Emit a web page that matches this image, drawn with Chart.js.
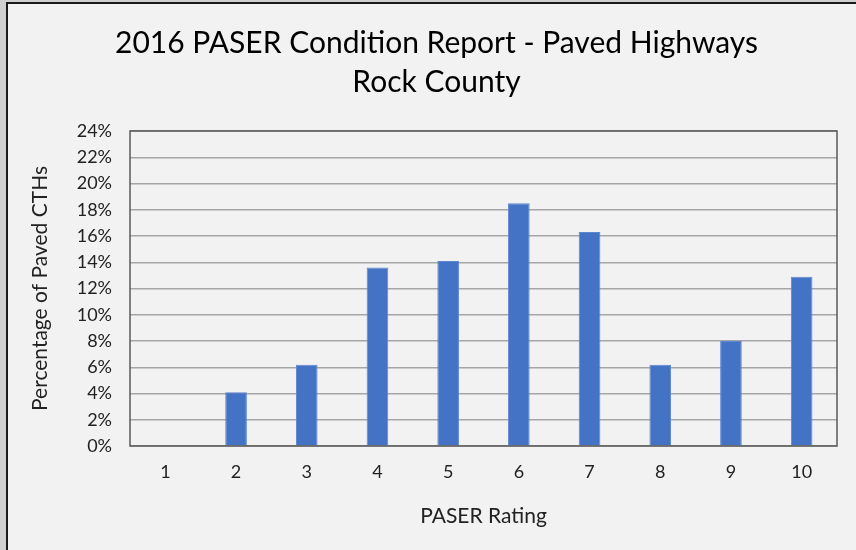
<!DOCTYPE html>
<html>
<head>
<meta charset="utf-8">
<script src="https://cdn.jsdelivr.net/npm/chart.js@4"></script>
<style>
  html, body { margin: 0; padding: 0; background: #f2f2f2; }
  #wrap { width: 856px; height: 550px; }
</style>
</head>
<body>
<div id="wrap"><canvas id="paserChart" width="856" height="550"></canvas></div>
<script>
// data
const ratings = ['1', '2', '3', '4', '5', '6', '7', '8', '9', '10'];
const percentCTH = [0, 4.1, 6.2, 13.6, 14.1, 18.5, 16.3, 6.2, 8.0, 12.9];
const yTicks = [0, 2, 4, 6, 8, 10, 12, 14, 16, 18, 20, 22, 24];

const FONT = 'Lato, "Open Sans", sans-serif';

// background, outer frame and plot box
const framePlugin = {
  id: 'frame',
  afterLayout(chart) {
    // title in the reference sits a little right of the canvas centre
    chart.titleBlock.left += 13;
    chart.titleBlock.right += 13;
  },
  beforeDraw(chart) {
    const c = chart.ctx;
    c.save();
    c.fillStyle = '#f2f2f2';
    c.fillRect(0, 0, chart.width, chart.height);
    c.fillStyle = '#d0d0d0';
    c.fillRect(0, 0, 6, chart.height);
    c.fillRect(0, 0, chart.width, 2);
    c.fillStyle = '#1a1a1a';
    c.fillRect(6, 2, 2, chart.height - 2);
    c.fillRect(6, 2, chart.width - 6, 2);
    c.restore();
  },
  afterDatasetsDraw(chart) {
    const a = chart.chartArea;
    const c = chart.ctx;
    c.save();
    c.strokeStyle = '#595959';
    c.lineWidth = 1.5;
    c.strokeRect(a.left, a.top, a.right - a.left, a.bottom - a.top);
    c.restore();
  }
};

new Chart(document.getElementById('paserChart'), {
  type: 'bar',
  data: {
    labels: ratings,
    datasets: [{
      label: 'Percentage of Paved CTHs',
      data: percentCTH,
      backgroundColor: '#4472c4',
      borderColor: '#5b86d0',
      borderWidth: 1,
      categoryPercentage: 1.0,
      barPercentage: 0.306
    }]
  },
  options: {
    responsive: false,
    animation: false,
    layout: { padding: { left: 10, right: 19, top: 14, bottom: 14 } },
    plugins: {
      legend: { display: false },
      tooltip: { enabled: false },
      title: {
        display: true,
        text: ['2016 PASER Condition Report - Paved Highways', 'Rock County'],
        color: '#000',
        font: { family: FONT, size: 30, weight: 'normal', lineHeight: '39px' },
        padding: { top: 10, bottom: 29 }
      }
    },
    scales: {
      x: {
        grid: { display: false, drawTicks: false },
        border: { display: false },
        ticks: { color: '#222', padding: 15, font: { family: FONT, size: 18 } },
        title: {
          display: true,
          text: 'PASER Rating',
          color: '#222',
          font: { family: FONT, size: 21 },
          padding: { top: 0, bottom: 7 }
        },
        afterFit(scale) { scale.height = 90; }
      },
      y: {
        min: 0,
        max: 24,
        afterBuildTicks(scale) { scale.ticks = yTicks.map(v => ({ value: v })); },
        grid: { color: '#a6a6a6', lineWidth: 1.5, drawTicks: false },
        border: { display: false },
        ticks: {
          color: '#222',
          padding: 18,
          font: { family: FONT, size: 18 },
          callback: v => v + '%'
        },
        title: {
          display: true,
          text: 'Percentage of Paved CTHs',
          color: '#222',
          font: { family: FONT, size: 21 },
          padding: { top: 18, bottom: 0 }
        },
        afterFit(scale) { scale.width = 120; }
      }
    }
  },
  plugins: [framePlugin]
});
</script>
</body>
</html>
